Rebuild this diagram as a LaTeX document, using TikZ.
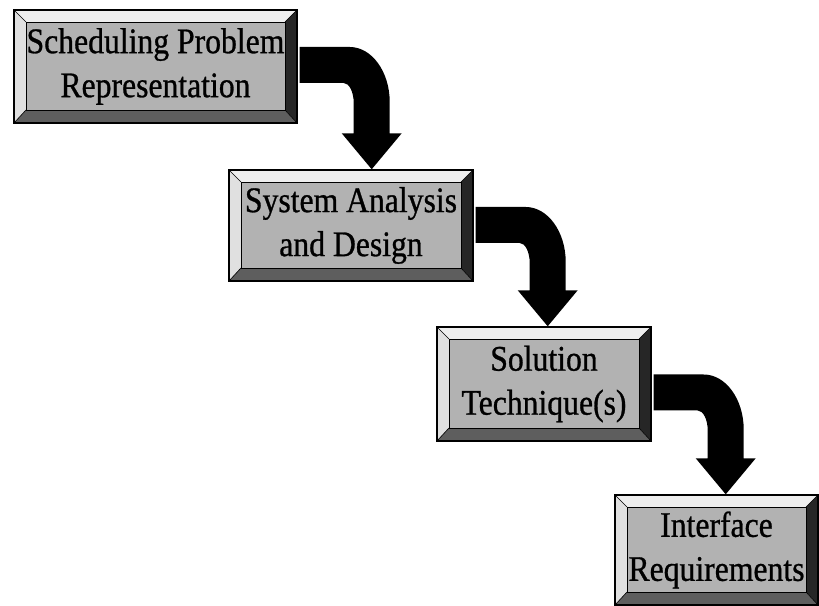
\documentclass[tikz,border=0pt]{standalone}
\usepackage{fontspec}
\setmainfont{Liberation Serif}[FakeStretch=0.88,FakeBold=0.8]
\usetikzlibrary{calc}

\definecolor{boxface}{HTML}{B2B2B2}
\definecolor{bevtop}{HTML}{EEEEEE}
\definecolor{bevleft}{HTML}{E0E0E0}
\definecolor{bevright}{HTML}{262626}
\definecolor{bevbottom}{HTML}{5E5E5E}

\tikzset{
  stepbox/.style={
    draw=black, line width=1.4pt, inner sep=0pt, align=center,
    font=\fontsize{36}{44}\selectfont,
    path picture={
      \coordinate (oA) at (path picture bounding box.north west);
      \coordinate (oB) at (path picture bounding box.north east);
      \coordinate (oC) at (path picture bounding box.south east);
      \coordinate (oD) at (path picture bounding box.south west);
      \coordinate (iA) at ($(oA)+(12,-12)$);
      \coordinate (iB) at ($(oB)+(-12,-12)$);
      \coordinate (iC) at ($(oC)+(-12,13)$);
      \coordinate (iD) at ($(oD)+(12,13)$);
      \fill[bevtop] (oA) -- (oB) -- (iB) -- (iA) -- cycle;
      \fill[bevleft] (oA) -- (iA) -- (iD) -- (oD) -- cycle;
      \fill[bevright] (oB) -- (oC) -- (iC) -- (iB) -- cycle;
      \fill[bevbottom] (oD) -- (iD) -- (iC) -- (oC) -- cycle;
      \filldraw[fill=boxface, draw=black, line width=0.8pt] (iA) rectangle (iC);
      \draw[line width=0.6pt] (oA) -- (iA) (oB) -- (iB) (oC) -- (iC) (oD) -- (iD);
    }
  },
  arrowfill/.style={fill=black}
}

% Thick bent arrow: tail centre #1 (on the right of a box), tip #2 (on top of the next box)
\newcommand\bentarrow[2]{%
  \fill[arrowfill] let \p1=(#1), \p2=(#2) in
    (\x1,\y1+18pt) -- (\x2-22pt,\y1+18pt)
    .. controls (\x2,\y1+18pt) and (\x2+18pt,\y1-6.6pt) .. (\x2+18pt,\y1-37pt)
    -- (\x2+18pt,\y2+36pt) -- (\x2+30pt,\y2+36pt) -- (\x2,\y2)
    -- (\x2-30pt,\y2+36pt) -- (\x2-18pt,\y2+36pt)
    -- (\x2-18pt,\y1-38pt)
    .. controls (\x2-18pt,\y1-27pt) and (\x2-22.5pt,\y1-18pt) .. (\x2-28pt,\y1-18pt)
    -- (\x1,\y1-18pt) -- cycle;}

\begin{document}
\begin{tikzpicture}[x=1pt,y=1pt]
  \useasboundingbox (0,0) rectangle (819,605);
  \fill[white] (0,0) rectangle (819,605);

  \node[stepbox, minimum width=283, minimum height=113] (b1) at (155.5,538.5)
    {Scheduling Problem\\Representation};
  \node[stepbox, minimum width=244, minimum height=111] (b2) at (351,379.5)
    {System Analysis\\and Design};
  \node[stepbox, minimum width=214, minimum height=114] (b3) at (544,221)
    {Solution\\Technique(s)};
  \node[stepbox, minimum width=203, minimum height=110] (b4) at (716.5,55)
    {Interface\\Requirements};

  \coordinate (t1) at ($(b1.east)+(2,1.5)$);
  \coordinate (h1) at ($(b1.east |- b2.north)+(74,0)$);
  \coordinate (t2) at ($(b2.east)+(2,0.5)$);
  \coordinate (h2) at ($(b2.east |- b3.north)+(74,0)$);
  \coordinate (t3) at ($(b3.east)+(2,-8.5)$);
  \coordinate (h3) at ($(b3.east |- b4.north)+(74,0)$);

  \bentarrow{t1}{h1}
  \bentarrow{t2}{h2}
  \bentarrow{t3}{h3}
\end{tikzpicture}
\end{document}
